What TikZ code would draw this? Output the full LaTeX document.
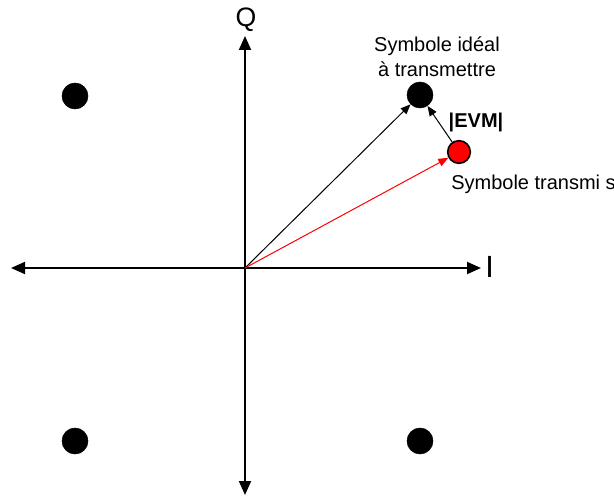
\documentclass[tikz,border=0pt]{standalone}
\usepackage{fontspec}
\setmainfont{Liberation Sans}
\usetikzlibrary{arrows.meta}
\begin{document}
\begin{tikzpicture}[x=0.75pt,y=-0.75pt,
  axis/.style={line width=1.5pt,-{Triangle[length=10.5pt,width=9pt]}},
  vec/.style={line width=0.75pt,-{Triangle[length=7.5pt,width=6pt]}},
  sym/.style={circle,fill=black,draw=black,minimum size=19.5pt,inner sep=0pt},
  rsym/.style={circle,fill=red,draw=black,line width=1.2pt,minimum size=17pt,inner sep=0pt},
  lbl/.style={font=\fontsize{15}{16.5}\selectfont,inner sep=0pt}]
\useasboundingbox (0,0) rectangle (614,499);
\coordinate (O) at (245,268);
\coordinate (L) at (11,268);
\coordinate (R) at (481,268);
\coordinate (T) at (245,36);
\coordinate (B) at (245,495);
\draw[axis] (O) -- (L);
\draw[axis] (O) -- (R);
\draw[axis] (O) -- (T);
\draw[axis] (O) -- (B);
\node[font=\fontsize{20}{22}\selectfont,inner sep=0pt] (Q) at (246,20) {Q};
\node[font=\fontsize{23}{25}\selectfont,inner sep=0pt,anchor=west] (I) at (485,267) {I};
\node[sym] (s1) at (75,96) {};
\node[sym] (s2) at (420,95) {};
\node[sym] (s3) at (75,441) {};
\node[sym] (s4) at (420,441) {};
\node[rsym] (r) at (459,152) {};
\draw[vec,black] (O) -- (s2);
\draw[vec,red] (O) -- (r);
\draw[vec,black] (r) -- (s2);
\node[lbl,align=center] (t1) at (437,57) {Symbole idéal\\[2pt]à transmettre};
\node[lbl,font=\fontsize{15}{16}\selectfont\bfseries] (evm) at (476,122) {|EVM|};
\node[lbl,anchor=west] (t2) at (451,184) {Symbole transmi s};
\end{tikzpicture}
\end{document}
